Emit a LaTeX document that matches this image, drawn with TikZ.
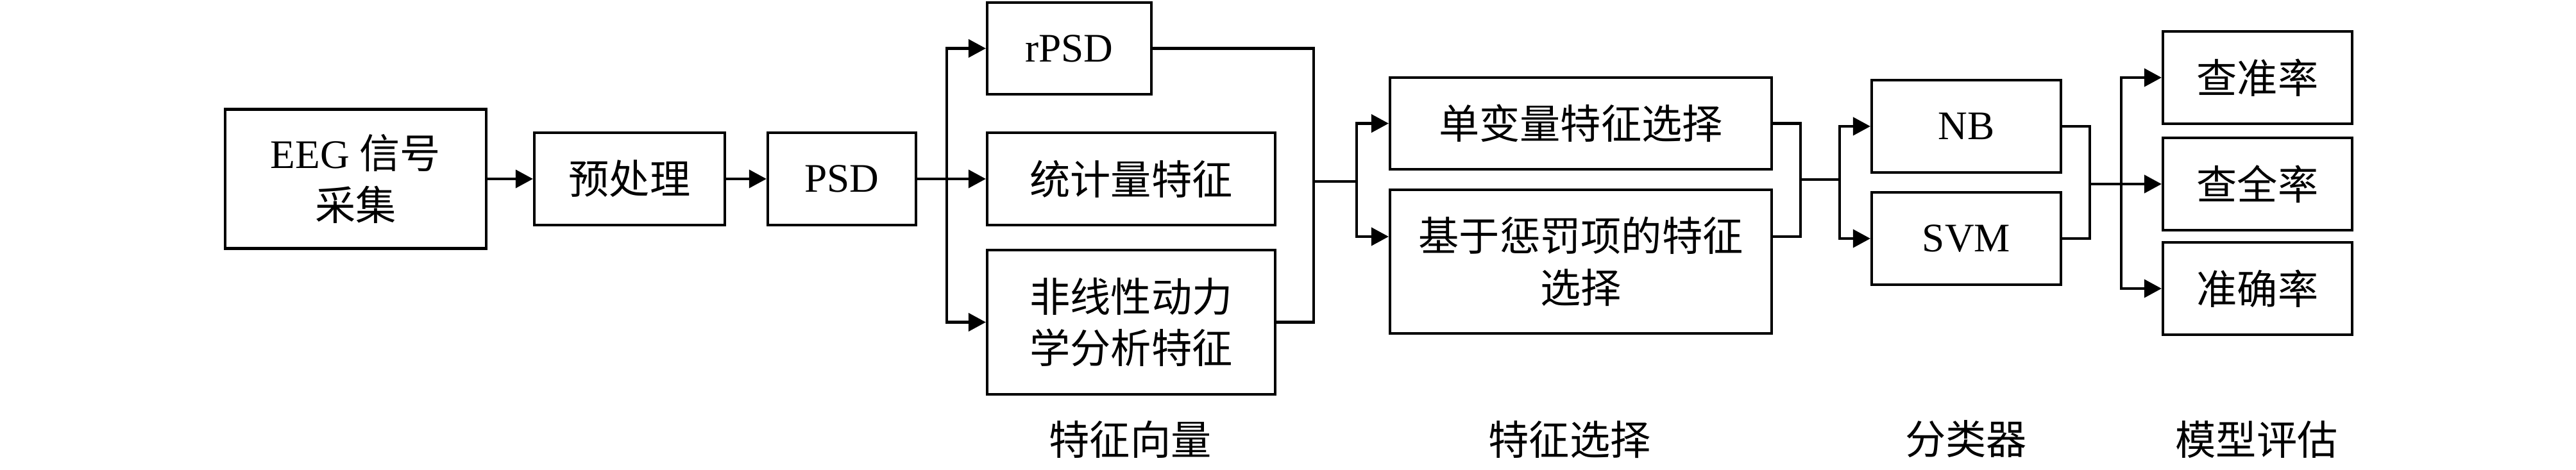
\documentclass[tikz,border=0pt]{standalone}
\usepackage{fontspec}
\setmainfont{Liberation Serif}
\newfontfamily\cjk{Noto Sans CJK SC}
\usetikzlibrary{arrows.meta, calc}
\newcommand{\boxfont}{\fontsize{18}{23}\selectfont}
\newcommand{\zh}[1]{{\cjk #1}}

\begin{document}
\begin{tikzpicture}[
  stepbox/.style={
    draw=black, line width=1.2pt, inner sep=0pt,
    minimum height=1.44cm, align=center, font=\boxfont
  },
  steplabel/.style={font=\boxfont\cjk},
  flowarr/.style={-{Triangle[length=0.27cm, width=0.28cm]}, line width=1.2pt},
  flowline/.style={line width=1.2pt},
]
\useasboundingbox (0,0) rectangle (40.16,7.32);
% main row
\node[stepbox, minimum width=4.07cm, minimum height=2.17cm] (eeg) at (5.545, 4.53)
  {EEG \zh{信号}\\\zh{采集}};
\node[stepbox, minimum width=2.97cm] (pre) at (9.815, 4.53) {\zh{预处理}};
\node[stepbox, minimum width=2.31cm] (psd) at (13.125, 4.53) {PSD};
% feature vectors
\node[stepbox, minimum width=2.56cm, minimum height=1.43cm] (rpsd) at (16.67, 6.565) {rPSD};
\node[stepbox, minimum width=4.49cm] (stat) at (17.635, 4.53) {\zh{统计量特征}};
\node[stepbox, minimum width=4.49cm, minimum height=2.25cm] (nonlin) at (17.635, 2.295)
  {\zh{非线性动力}\\\zh{学分析特征}};
% feature selection
\node[stepbox, minimum width=5.95cm, minimum height=1.43cm] (uni) at (24.645, 5.395)
  {\zh{单变量特征选择}};
\node[stepbox, minimum width=5.95cm, minimum height=2.24cm] (pen) at (24.645, 3.24)
  {\zh{基于惩罚项的特征}\\\zh{选择}};
% classifiers
\node[stepbox, minimum width=2.95cm] (nb)  at (30.655, 5.35) {NB};
\node[stepbox, minimum width=2.95cm] (svm) at (30.655, 3.60) {SVM};
% evaluation
\node[stepbox, minimum width=2.95cm] (prec) at (35.195, 6.11) {\zh{查准率}};
\node[stepbox, minimum width=2.95cm] (rec)  at (35.195, 4.45) {\zh{查全率}};
\node[stepbox, minimum width=2.95cm] (acc)  at (35.195, 2.82) {\zh{准确率}};
% column labels
\node[steplabel] (lvec)  at (17.62, 0.47) {特征向量};
\node[steplabel] (lsel)  at (24.47, 0.47) {特征选择};
\node[steplabel] (lcls)  at (30.65, 0.47) {分类器};
\node[steplabel] (leval) at (35.18, 0.47) {模型评估};
% split and join points
\coordinate (s1) at (14.76, 4.53);
\coordinate (j1) at (20.48, 4.49);
\coordinate (s2) at (21.15, 4.49);
\coordinate (j2) at (28.07, 4.52);
\coordinate (s3) at (28.68, 4.52);
\coordinate (j3) at (32.58, 4.45);
\coordinate (s4) at (33.07, 4.45);

\draw[flowarr] (eeg) -- (pre);
\draw[flowarr] (pre) -- (psd);
\draw[flowline] (psd) -- (s1);
\foreach \b in {rpsd, stat, nonlin} {
  \draw[flowarr] (s1) |- (\b.west);
}
\draw[flowline] (rpsd.east) -| (j1) |- (nonlin.east);
\draw[flowline] (j1) -- (s2);
\draw[flowarr] (s2) |- (uni.west);
\draw[flowarr] (s2) |- ([yshift=0.39cm]pen.west);
\draw[flowline] (uni.east) -| (j2) |- ([yshift=0.39cm]pen.east);
\draw[flowline] (j2) -- (s3);
\foreach \b in {nb, svm} {
  \draw[flowarr] (s3) |- (\b.west);
}
\draw[flowline] (nb.east) -| (j3) |- (svm.east);
\draw[flowline] (j3) -- (s4);
\foreach \b in {prec, rec, acc} {
  \draw[flowarr] (s4) |- (\b.west);
}
\end{tikzpicture}
\end{document}
